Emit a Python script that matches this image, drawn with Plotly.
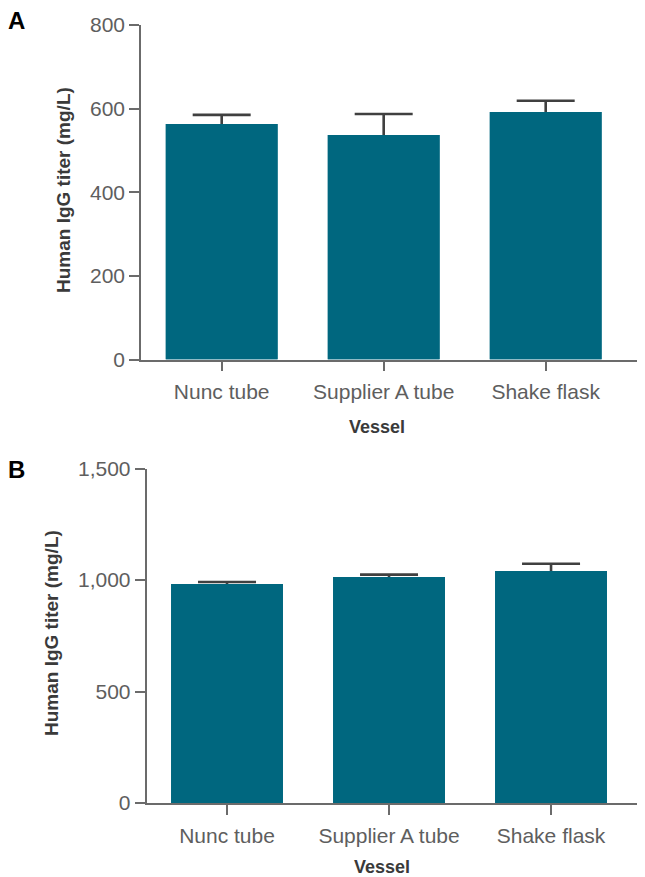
import plotly.graph_objects as go

# ---- data ----
categories = ["Nunc tube", "Supplier A tube", "Shake flask"]
titer_a = [563, 537, 592]
err_a = [22, 50, 27]
titer_b = [982, 1013, 1040]
err_b = [9, 11, 33]
ticks_a = [0, 200, 400, 600, 800]
ticks_b = [0, 500, 1000, 1500]

OFF = 8  # page body margin in the browser
W, H = 645 - OFF, 877 - OFF
BAR = "#00677F"
ERR = "#404040"
AX = "#6b6b6b"
TICKFONT = dict(family="Liberation Sans, Arial, sans-serif", size=21, color="#5e5e5e")
BOLD = "Liberation Sans, Arial, sans-serif"

xpos = list(range(len(categories)))


def px_x(p):
    return (p - OFF) / W


def px_y(p):
    return 1 - (p - OFF) / H


fig = go.Figure()
# bars carrying the error bars (symmetric); lower half gets hidden by the overlay bars
for vals, errs, xa, ya in [(titer_a, err_a, "x", "y"), (titer_b, err_b, "x2", "y2")]:
    fig.add_trace(go.Bar(
        x=xpos, y=vals, width=0.69, marker=dict(color=BAR, line=dict(width=0)),
        error_y=dict(type="data", array=errs, symmetric=True,
                     color=ERR, thickness=2.6, width=29),
        xaxis=xa, yaxis=ya, showlegend=False, hoverinfo="skip"))
    fig.add_trace(go.Bar(
        x=xpos, y=vals, width=0.69, marker=dict(color=BAR, line=dict(width=0)),
        xaxis=xa, yaxis=ya, showlegend=False))

common_x = dict(showline=True, linecolor=AX, linewidth=1.5, ticks="outside", ticklen=10,
                tickwidth=1.5, tickcolor=AX, tickfont=TICKFONT, showgrid=False,
                zeroline=False, automargin=False, tickvals=xpos, ticktext=categories,
                ticklabelstandoff=3, fixedrange=True)
common_y = dict(showline=True, linecolor=AX, linewidth=1.5, ticks="outside", ticklen=10,
                tickwidth=1.5, tickcolor=AX, tickfont=TICKFONT, showgrid=False,
                zeroline=False, automargin=False, fixedrange=True)

fig.update_layout(
    width=W, height=H, margin=dict(l=0, r=0, t=0, b=0),
    paper_bgcolor="white", plot_bgcolor="white", barmode="overlay",
    xaxis=dict(domain=[px_x(141), 1], range=[-0.498, 2.613], anchor="y", **common_x),
    yaxis=dict(domain=[px_y(359.5), px_y(25)], range=[0, 800], anchor="x",
               tickvals=ticks_a, ticktext=[str(v) for v in ticks_a], **common_y),
    xaxis2=dict(domain=[px_x(146.5), 1], range=[-0.497, 2.580], anchor="y2", **common_x),
    yaxis2=dict(domain=[px_y(803), px_y(468.5)], range=[0, 1500], anchor="x2",
                tickvals=ticks_b, ticktext=[f"{v:,}" for v in ticks_b], **common_y),
)

ann = []
# panel letters
for letter, xc, yc in [("A", 16, 21), ("B", 16, 469)]:
    ann.append(dict(text=f"<b>{letter}</b>", x=px_x(xc), y=px_y(yc), xref="paper", yref="paper",
                    showarrow=False, xanchor="center", yanchor="middle",
                    font=dict(family=BOLD, size=24, color="black")))
# y titles
for xc, yc in [(64, 190), (51, 633)]:
    ann.append(dict(text="<b>Human IgG titer (mg/L)</b>", x=px_x(xc), y=px_y(yc),
                    xref="paper", yref="paper", showarrow=False, textangle=-90,
                    xanchor="center", yanchor="middle",
                    font=dict(family=BOLD, size=19, color="#3a3a3a")))
# x titles
for xc, yc in [(377, 427), (382, 867)]:
    ann.append(dict(text="<b>Vessel</b>", x=px_x(xc), y=px_y(yc), xref="paper", yref="paper",
                    showarrow=False, xanchor="center", yanchor="middle",
                    font=dict(family=BOLD, size=18, color="#3a3a3a")))
fig.update_layout(annotations=ann)

fig.write_html("out.html")
